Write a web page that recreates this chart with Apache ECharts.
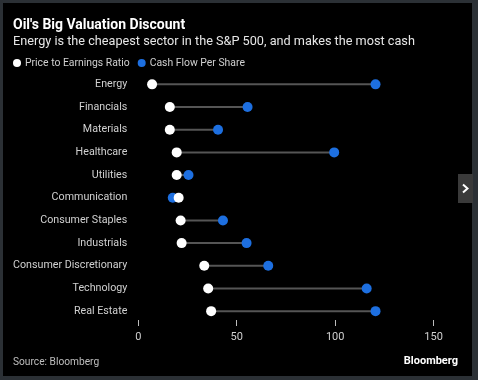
<!DOCTYPE html>
<html>
<head>
<meta charset="utf-8">
<script src="https://cdn.jsdelivr.net/npm/echarts@6/dist/echarts.min.js"></script>
<style>
  html, body { margin: 0; padding: 0; background: #2b3035; width: 478px; height: 380px; overflow: hidden; }
  #panel { position: absolute; left: 3px; top: 3px; width: 469px; height: 373px; background: #000; }
  #chart { position: absolute; left: 0; top: 0; width: 478px; height: 380px; }
</style>
</head>
<body>
<div id="panel"></div>
<div id="chart"></div>
<script>
const categories = ['Energy', 'Financials', 'Materials', 'Healthcare', 'Utilities', 'Communication',
  'Consumer Staples', 'Industrials', 'Consumer Discretionary', 'Technology', 'Real Estate'];
const peRatio = [7, 16, 16, 19.5, 19.5, 20.5, 21.5, 22, 33.5, 35.5, 37];
const cashFlow = [120.5, 55.5, 40.5, 99.5, 25.5, 17.5, 43, 55, 66, 116, 120.5];
const xTicks = [0, 50, 100, 150];

const FONT = 'Roboto';
const rangeBase = categories.map((c, i) => Math.min(peRatio[i], cashFlow[i]));
const rangeSpan = categories.map((c, i) => Math.abs(cashFlow[i] - peRatio[i]));

const chart = echarts.init(document.getElementById('chart'), null, { renderer: 'canvas' });
chart.setOption({
  backgroundColor: 'transparent',
  animation: false,
  textStyle: { fontFamily: FONT },
  title: [
    { text: "Oil's Big Valuation Discount", left: 13, top: 16, padding: 0,
      textStyle: { color: '#ffffff', fontSize: 14, fontWeight: 'bold', lineHeight: 18, fontFamily: FONT } },
    { text: 'Energy is the cheapest sector in the S&P 500, and makes the most cash', left: 13, top: 33, padding: 0,
      textStyle: { color: '#e6e6e6', fontSize: 12.7, fontWeight: 'normal', lineHeight: 18, fontFamily: FONT } },
    { text: 'Source: Bloomberg', left: 13, top: 355, padding: 0,
      textStyle: { color: '#bfbfbf', fontSize: 10.2, fontWeight: 'normal', lineHeight: 14, fontFamily: FONT } },
    { text: 'Bloomberg', right: 20, top: 354, padding: 0,
      textStyle: { color: '#ffffff', fontSize: 11, fontWeight: 'bold', lineHeight: 14, fontFamily: FONT } }
  ],
  legend: {
    data: ['Price to Earnings Ratio', 'Cash Flow Per Share'],
    left: 13, top: 56, padding: 0, itemGap: 8, itemWidth: 8, itemHeight: 8,
    icon: 'circle',
    textStyle: { color: '#d0d0d0', fontSize: 10.4, lineHeight: 14, fontFamily: FONT, padding: [0, 0, 0, -1] }
  },
  grid: { left: 138.3, width: 295.3, top: 73, height: 249.5, containLabel: false },
  xAxis: {
    type: 'value', min: xTicks[0], max: xTicks[xTicks.length - 1], interval: 50,
    position: 'bottom', offset: -2.5,
    axisLine: { show: false },
    axisTick: { show: true, length: 6, lineStyle: { color: '#bdbdbd', width: 1 } },
    splitLine: { show: false },
    axisLabel: { color: '#cfcfcf', fontSize: 11, margin: 12, fontFamily: FONT }
  },
  yAxis: {
    type: 'category', data: categories, inverse: true,
    axisLine: { show: false }, axisTick: { show: false }, splitLine: { show: false },
    axisLabel: { color: '#d0d0d0', fontSize: 10.7, margin: 11, fontFamily: FONT }
  },
  series: [
    { type: 'bar', stack: 'range', data: rangeBase, barWidth: 2, silent: true,
      itemStyle: { color: 'transparent' }, z: 1 },
    { type: 'bar', stack: 'range', data: rangeSpan, barWidth: 2, silent: true,
      itemStyle: { color: '#555555' }, z: 1 },
    { name: 'Cash Flow Per Share', type: 'scatter', data: cashFlow, symbol: 'circle', symbolSize: 10,
      itemStyle: { color: '#1d6fe0', opacity: 1 }, z: 3 },
    { name: 'Price to Earnings Ratio', type: 'scatter', data: peRatio, symbol: 'circle', symbolSize: 10,
      itemStyle: { color: '#ffffff', opacity: 1 }, z: 4 }
  ],
  graphic: [
    { type: 'rect', shape: { x: 458, y: 174, width: 15, height: 29 }, style: { fill: '#3a3a3a' }, z: 10 },
    { type: 'polyline', shape: { points: [[463, 184.5], [467.5, 188.5], [463, 192.5]] },
      style: { stroke: '#ffffff', lineWidth: 2, fill: null }, z: 11 }
  ]
});
</script>
</body>
</html>
